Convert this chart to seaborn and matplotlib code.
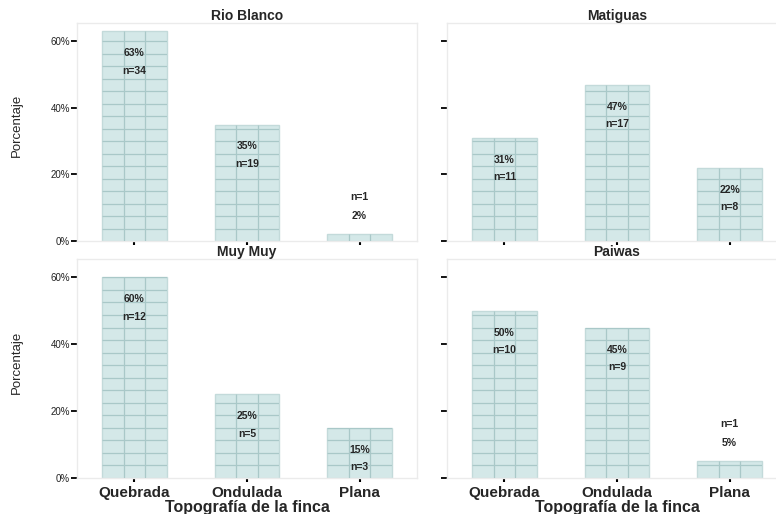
import numpy as np
import pandas as pd
import matplotlib
matplotlib.use('Agg')
import matplotlib.pyplot as plt
import seaborn as sns

# datos por sitio
sitios = ['Rio Blanco', 'Matiguas', 'Muy Muy', 'Paiwas']
topografia = ['Quebrada', 'Ondulada', 'Plana']
pct_rio_blanco = [63, 35, 2]
n_rio_blanco = [34, 19, 1]
pct_matiguas = [31, 47, 22]
n_matiguas = [11, 17, 8]
pct_muy_muy = [60, 25, 15]
n_muy_muy = [12, 5, 3]
pct_paiwas = [50, 45, 5]
n_paiwas = [10, 9, 1]
yticks = [0, 20, 40, 60]

pcts = [pct_rio_blanco, pct_matiguas, pct_muy_muy, pct_paiwas]
ns = [n_rio_blanco, n_matiguas, n_muy_muy, n_paiwas]

sns.set_style('white')
plt.rcParams['font.family'] = ['Liberation Sans', 'DejaVu Sans']

fill = '#d4e8e8'
linec = '#a9c8c8'

fig = plt.figure(figsize=(7.76, 5.14), dpi=100)
W, H = 776., 514.
# left, top, right, bottom in pixels
boxes = [(77, 23, 417, 241), (447, 23, 787, 241),
         (77, 259, 417, 478), (447, 259, 787, 478)]

for i, sitio in enumerate(sitios):
    l, t, r, b = boxes[i]
    ax = fig.add_axes([l/W, 1-b/H, (r-l)/W, (b-t)/H])
    df = pd.DataFrame({'Topografia': topografia, 'Porcentaje': pcts[i]})
    sns.barplot(data=df, x='Topografia', y='Porcentaje', color=fill, saturation=1,
                width=0.57, edgecolor='#c3dada', linewidth=1, ax=ax)
    levels = np.arange(3.75, 66, 3.75)
    for p in ax.patches:
        x0, w = p.get_x(), p.get_width()
        hl = ax.hlines(levels, x0, x0+w, color=linec, lw=0.9, zorder=3)
        hl.set_clip_path(p)
        vl = ax.vlines([x0+w/3, x0+2*w/3], 0, p.get_height(), color=linec, lw=0.9, zorder=3)
        vl.set_clip_path(p)
    ax.set_xlim(-0.51, 2.51)
    ax.set_ylim(0, 65.5)
    ax.set_yticks(yticks)
    for s in ax.spines.values():
        s.set_visible(True)
        s.set_color('#ebebeb')
        s.set_linewidth(1)
    ax.tick_params(axis='y', left=True, length=4, width=1.3, color='black', pad=1,
                   labelsize=7, labelcolor='#222222')
    ax.tick_params(axis='x', bottom=True, length=3, width=1.5, color='black', pad=3,
                   labelsize=11)
    if i % 2 == 0:
        ax.set_yticklabels([f'{v}%' for v in yticks])
        ax.set_ylabel('Porcentaje', fontsize=9.5)
        ax.yaxis.set_label_coords(-0.16, 0.53)
    else:
        ax.set_yticklabels([])
        ax.set_ylabel('')
    if i >= 2:
        for lab in ax.get_xticklabels():
            lab.set_fontweight('bold')
        ax.set_xlabel('Topografía de la finca', fontsize=11.5, fontweight='bold', labelpad=0)
    else:
        ax.set_xticklabels([])
        ax.set_xlabel('')
    ax.set_title(sitio, fontsize=10, fontweight='bold', pad=2)
    for j, v in enumerate(pcts[i]):
        if v < 10:
            ax.text(j, v+5.5, f'{v}%', ha='center', va='center', fontsize=7.5, fontweight='bold', zorder=5)
            ax.text(j, v+11.2, f'n={ns[i][j]}', ha='center', va='center', fontsize=7.5, fontweight='bold', zorder=5)
        else:
            ax.text(j, v-6.6, f'{v}%', ha='center', va='center', fontsize=7.5, fontweight='bold', zorder=5)
            ax.text(j, v-11.8, f'n={ns[i][j]}', ha='center', va='center', fontsize=7.5, fontweight='bold', zorder=5)

plt.savefig('out.png', dpi=100)
